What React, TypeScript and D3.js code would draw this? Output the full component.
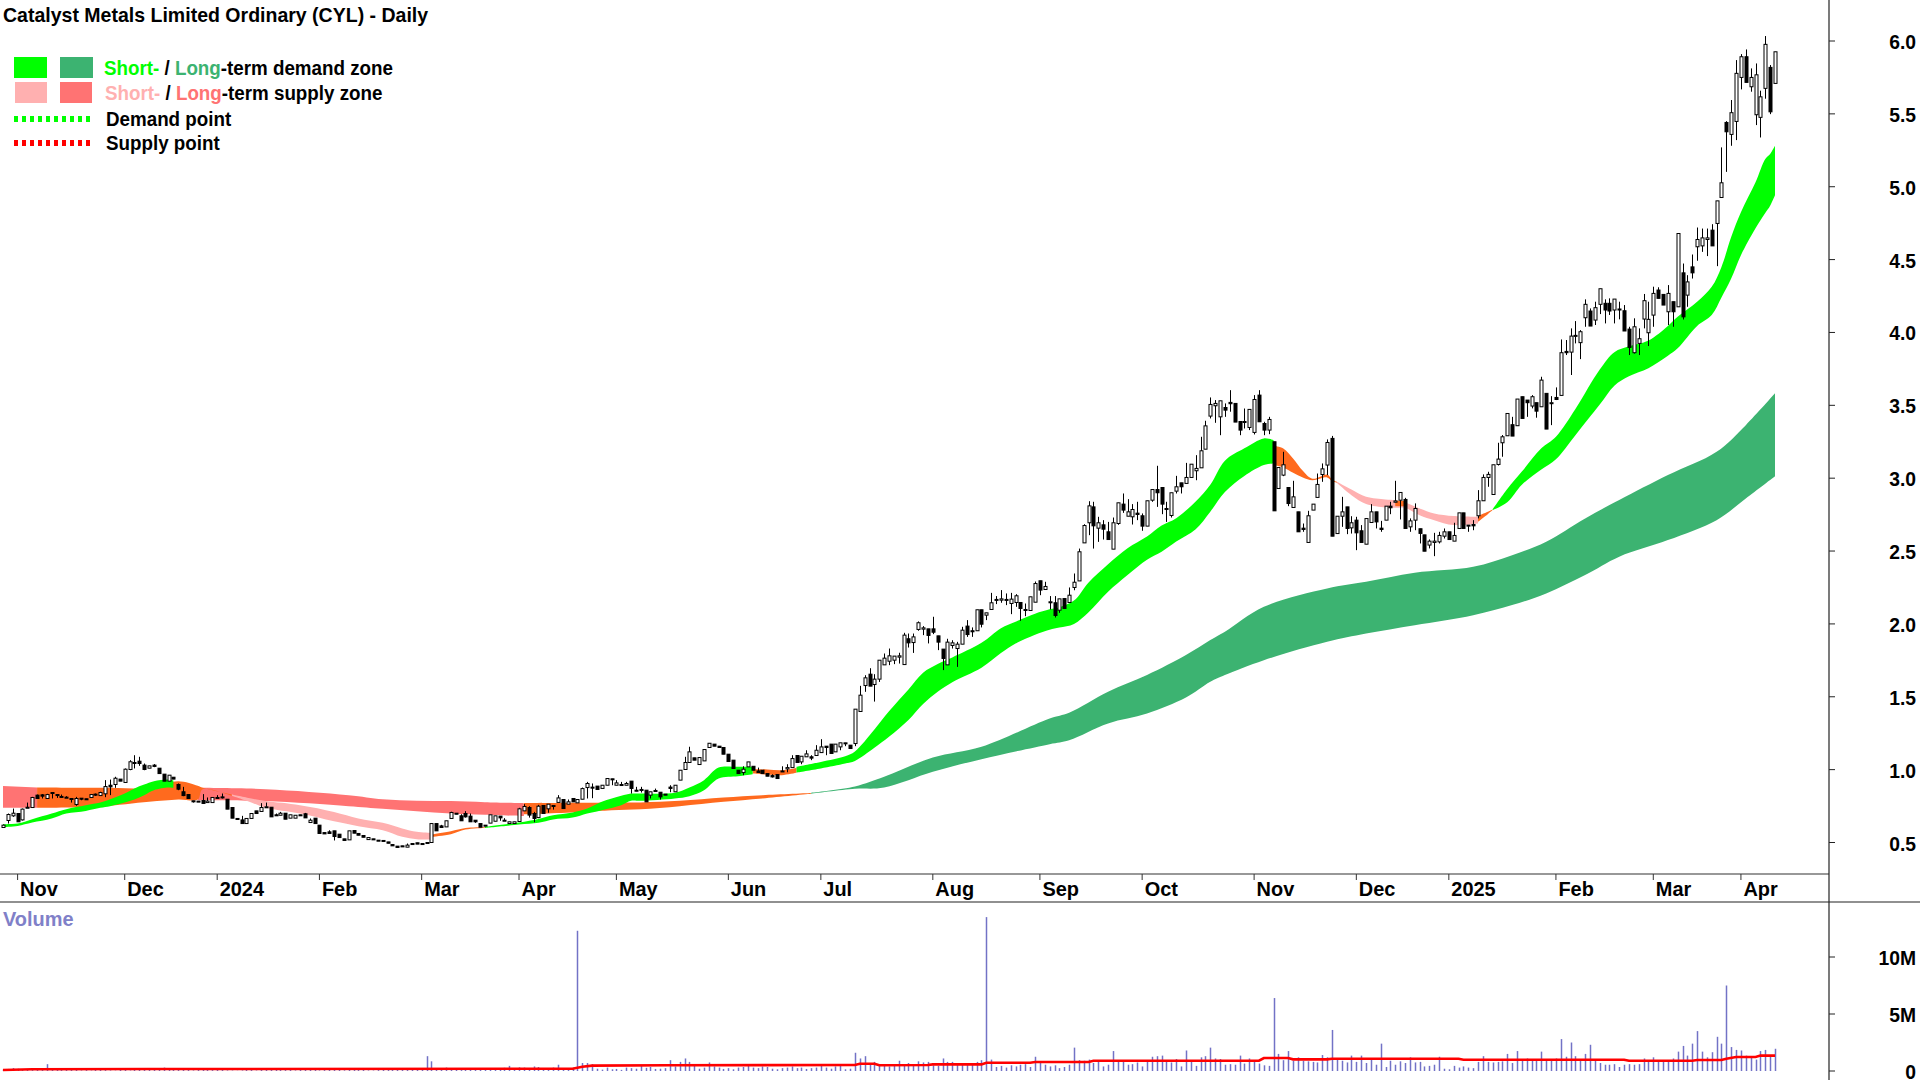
import React from "react";
import * as d3 from "d3";

// Candles as [open, high, low, close].
const candlesLate2023 = [
[.603,.623,.603,.619],[.651,.699,.630,.692],[.683,.733,.676,.701],[.699,.699,.642,.642],[.655,.733,.651,.729],
[.742,.774,.738,.738],[.740,.813,.738,.809],[.825,.829,.802,.802],[.827,.832,.802,.818],[.802,.834,.800,.829],
[.838,.843,.802,.843],[.829,.829,.806,.825],[.816,.829,.809,.811],[.811,.818,.806,.806],[.802,.802,.774,.797],
[.761,.813,.752,.802],[.804,.804,.790,.800],[.800,.800,.795,.795],[.809,.829,.806,.829],[.832,.836,.820,.825],
[.822,.848,.820,.843],[.834,.928,.811,.884],[.893,.932,.825,.882],[.898,.951,.875,.941],[.935,.935,.921,.921],
[.912,1.008,.909,1.003],[1.001,1.065,.996,1.054],[1.049,1.099,1.008,1.044],[1.058,1.088,1.026,1.042],[1.031,1.042,.996,1.001],
[1.010,1.026,1.010,1.026],[1.031,1.038,1.017,1.022],[1.010,1.010,.973,.973],[.969,.969,.921,.921],[.921,.962,.921,.962],
[.948,.948,.935,.935],[.898,.905,.859,.866],[.848,.882,.818,.822],[.829,.829,.802,.802],[.786,.786,.774,.784],
[.784,.784,.782,.782],[.788,.832,.765,.768],[.774,.809,.774,.784],[.774,.809,.774,.809],[.809,.825,.804,.804],
[.813,.836,.802,.806],[.797,.797,.729,.729],[.740,.740,.667,.667],[.665,.665,.658,.658],[.655,.683,.630,.630],
[.630,.665,.630,.665],[.665,.699,.665,.699],[.717,.717,.699,.699],[.713,.770,.713,.740],[.740,.774,.740,.745],
[.742,.742,.676,.676],[.690,.699,.685,.685],[.687,.710,.687,.701],[.701,.701,.660,.660],[.667,.690,.667,.690],
[.667,.687,.667,.687],[.690,.690,.685,.685],[.697,.703,.669,.669],[.637,.665,.637,.653],[.667,.667,.630,.630],
[.619,.619,.562,.562],[.568,.568,.559,.559],[.573,.584,.562,.562],[.580,.580,.514,.541],[.557,.557,.534,.534],
[.525,.525,.514,.514],[.518,.580,.518,.580],[.582,.582,.564,.564],[.562,.562,.550,.550]];

const candlesEarly2024 = [
[.548,.548,.536,.536],[.520,.534,.520,.534],[.525,.525,.520,.520],[.516,.516,.511,.511],[.514,.514,.509,.509],
[.504,.504,.495,.495],[.486,.486,.477,.477],[.475,.475,.466,.466],[.477,.477,.470,.470],[.468,.493,.468,.482],
[.493,.493,.486,.486],[.498,.498,.489,.489],[.493,.493,.486,.486],[.500,.500,.493,.493],[.500,.632,.497,.630],
[.630,.630,.580,.580],[.614,.621,.603,.603],[.607,.649,.607,.649],[.665,.711,.665,.706],[.701,.701,.694,.694],
[.683,.694,.649,.649],[.699,.715,.671,.676],[.681,.699,.642,.642],[.653,.653,.635,.642],[.630,.630,.605,.605],
[.619,.619,.612,.612],[.633,.690,.633,.690],[.646,.683,.646,.683],[.681,.681,.649,.669],[.653,.667,.649,.649],
[.630,.642,.630,.642],[.630,.642,.630,.642],[.644,.738,.642,.731],[.717,.763,.717,.747],[.740,.749,.671,.688],
[.699,.710,.639,.665],[.671,.758,.667,.749],[.754,.754,.699,.699],[.731,.763,.704,.763],[.747,.754,.726,.754],
[.775,.825,.775,.806],[.795,.795,.733,.733],[.763,.795,.763,.779],[.802,.802,.779,.779],[.772,.795,.772,.795],
[.797,.877,.797,.870],[.877,.916,.802,.905],[.880,.905,.804,.873],[.887,.887,.864,.864],[.871,.893,.871,.893],
[.893,.939,.893,.939],[.937,.937,.893,.930],[.893,.928,.893,.909],[.891,.916,.891,.898],[.893,.916,.893,.905],
[.921,.921,.836,.871],[.859,.882,.852,.852],[.857,.882,.843,.864],[.859,.859,.779,.779],[.825,.848,.802,.848],
[.857,.870,.850,.850],[.845,.845,.795,.813],[.832,.832,.825,.825],[.880,.893,.845,.871],[.848,.893,.848,.893],
[.928,.996,.928,.996],[1.001,1.088,1.001,1.049],[1.049,1.157,1.049,1.122],[1.081,1.081,1.065,1.065],[1.035,1.083,1.035,1.083],
[1.060,1.138,1.060,1.138],[1.152,1.181,1.152,1.181]];

const candlesMid2024 = [
[1.175,1.175,1.161,1.161],[1.161,1.161,1.152,1.152],[1.152,1.152,1.106,1.106],[1.106,1.106,1.056,1.056],[1.065,1.065,1.008,1.008],
[.996,.996,.973,.973],[.980,1.023,.962,1.003],[1.019,1.053,1.019,1.053],[1.023,1.023,.996,.996],[.991,1.014,.980,.980],
[.996,.996,.973,.973],[.973,.973,.955,.955],[.959,.968,.946,.950],[.966,.966,.939,.939],[.985,1.023,.985,.991],
[1.005,1.037,.982,1.014],[1.014,1.099,1.014,1.076],[1.097,1.097,1.049,1.049],[1.053,1.092,1.037,1.092],[1.088,1.133,1.088,1.108],
[1.088,1.099,1.065,1.079],[1.097,1.168,1.097,1.133],[1.117,1.209,1.117,1.156],[1.161,1.161,1.099,1.152],[1.175,1.175,1.111,1.111],
[1.122,1.175,1.122,1.175],[1.156,1.184,1.133,1.184],[1.177,1.184,1.161,1.184],[1.168,1.168,1.145,1.145],[1.179,1.415,1.161,1.415],
[1.399,1.575,1.399,1.511],[1.577,1.648,1.534,1.630],[1.655,1.696,1.573,1.573],[1.584,1.655,1.467,1.621],[1.621,1.751,1.602,1.751],
[1.719,1.797,1.719,1.765],[1.744,1.831,1.717,1.781],[1.751,1.779,1.724,1.779],[1.772,1.802,1.728,1.781],[1.721,1.939,1.721,1.923],
[1.898,1.934,1.838,1.870],[1.872,1.934,1.801,1.911],[1.962,2.017,1.953,2.008],[1.964,1.985,1.923,1.973],[1.966,1.966,1.866,1.921],
[1.966,2.049,1.930,1.943],[1.918,1.918,1.820,1.875],[1.827,1.827,1.683,1.763],[1.719,1.898,1.719,1.875],[1.852,1.888,1.831,1.870],
[1.831,1.877,1.705,1.861],[1.861,1.980,1.861,1.957],[1.985,2.026,1.911,1.927],[1.953,1.976,1.911,1.946],[1.953,2.097,1.953,2.097],
[2.097,2.097,1.976,1.998],[2.060,2.076,2.026,2.076],[2.099,2.213,2.099,2.145],[2.161,2.191,2.136,2.168],[2.163,2.232,2.145,2.172],
[2.161,2.209,2.129,2.168],[2.140,2.213,2.067,2.170],[2.147,2.204,2.117,2.193],[2.147,2.147,2.021,2.106],[2.092,2.140,2.053,2.099],
[2.092,2.186,2.092,2.186],[2.149,2.291,2.149,2.277],[2.296,2.296,2.197,2.232],[2.236,2.289,2.236,2.257],[2.145,2.191,2.099,2.152],
[2.145,2.191,2.044,2.058],[2.094,2.172,2.076,2.172]];

const candlesLate2024 = [
[2.174,2.174,2.106,2.106],[2.147,2.250,2.147,2.197],[2.250,2.346,2.231,2.286],[2.295,2.517,2.295,2.495],[2.556,2.684,2.556,2.675],
[2.694,2.842,2.609,2.810],[2.803,2.838,2.517,2.673],[2.657,2.735,2.563,2.694],[2.680,2.712,2.579,2.650],[2.632,2.700,2.579,2.579],
[2.513,2.730,2.513,2.694],[2.689,2.831,2.680,2.831],[2.822,2.895,2.762,2.781],[2.739,2.856,2.739,2.769],[2.735,2.822,2.682,2.785],
[2.760,2.838,2.712,2.751],[2.742,2.758,2.639,2.671],[2.671,2.845,2.671,2.845],[2.849,2.922,2.838,2.922],[2.922,3.085,2.803,2.900],
[2.936,2.936,2.753,2.822],[2.785,2.838,2.700,2.792],[2.744,2.900,2.730,2.900],[2.911,3.016,2.895,2.941],[2.968,2.968,2.895,2.941],
[2.964,3.105,2.964,3.005],[3.005,3.096,3.005,3.096],[3.051,3.158,2.986,3.067],[3.071,3.284,3.071,3.188],[3.199,3.394,3.199,3.359],
[3.426,3.554,3.410,3.506],[3.497,3.536,3.380,3.513],[3.421,3.531,3.295,3.531],[3.485,3.513,3.421,3.467],[3.520,3.604,3.456,3.511],
[3.513,3.513,3.385,3.385],[3.389,3.389,3.295,3.330],[3.382,3.478,3.341,3.389],[3.348,3.472,3.330,3.472],[3.314,3.570,3.300,3.540],
[3.570,3.604,3.387,3.387],[3.375,3.387,3.295,3.330],[3.330,3.421,3.302,3.403],[3.250,3.250,2.776,2.776],[2.929,3.073,2.929,3.073],
[3.021,3.181,3.014,3.092],[2.936,2.936,2.808,2.826],[2.799,2.982,2.799,2.872],[2.769,2.769,2.632,2.632],[2.657,2.689,2.632,2.648],
[2.559,2.776,2.559,2.742],[2.781,2.822,2.781,2.822],[2.868,3.032,2.868,2.957],[3.025,3.101,2.975,3.064],[3.090,3.266,3.021,3.245],
[3.273,3.290,2.602,2.602],[2.620,2.739,2.620,2.739],[2.739,2.872,2.666,2.769],[2.803,2.803,2.616,2.655],[2.659,2.739,2.620,2.694],
[2.712,2.735,2.506,2.625],[2.639,2.678,2.559,2.559],[2.547,2.723,2.547,2.723],[2.696,2.822,2.696,2.769],[2.769,2.769,2.655,2.700],
[2.657,2.707,2.632,2.648],[2.712,2.808,2.712,2.808],[2.808,2.838,2.753,2.797],[2.835,2.982,2.835,2.844],[2.849,2.902,2.717,2.902],
[2.854,2.865,2.655,2.655],[2.666,2.724,2.632,2.707]];

const candles2025 = [
[2.712,2.827,2.643,2.792],[2.653,2.653,2.552,2.621],[2.611,2.611,2.499,2.499],[2.541,2.580,2.518,2.568],[2.559,2.625,2.465,2.568],
[2.563,2.632,2.552,2.607],[2.602,2.655,2.586,2.632],[2.632,2.632,2.579,2.579],[2.568,2.694,2.568,2.607],[2.655,2.762,2.655,2.762],
[2.762,2.762,2.655,2.655],[2.671,2.678,2.632,2.678],[2.682,2.712,2.643,2.673],[2.742,2.918,2.724,2.845],[2.845,3.026,2.845,3.005],
[3.005,3.044,2.941,3.026],[2.888,3.092,2.888,3.092],[3.094,3.243,3.087,3.131],[3.243,3.296,3.147,3.284],[3.291,3.444,3.291,3.444],
[3.367,3.421,3.289,3.289],[3.360,3.543,3.360,3.543],[3.559,3.559,3.410,3.410],[3.536,3.536,3.421,3.518],[3.495,3.570,3.479,3.559],
[3.518,3.518,3.415,3.460],[3.490,3.696,3.490,3.673],[3.582,3.582,3.337,3.337],[3.511,3.563,3.364,3.518],[3.554,3.623,3.536,3.540],
[3.568,3.952,3.568,3.861],[3.870,3.948,3.845,3.861],[3.865,4.028,3.708,3.975],[3.973,4.078,3.925,3.980],[3.930,4.016,3.817,4.005],
[4.101,4.227,4.039,4.193],[4.147,4.165,4.044,4.044],[4.085,4.211,4.051,4.170],[4.193,4.300,4.126,4.300],[4.200,4.227,4.062,4.154],
[4.200,4.234,4.120,4.147],[4.154,4.229,4.062,4.229],[4.161,4.211,4.090,4.154],[4.149,4.188,4.010,4.010],[4.023,4.039,3.845,3.897],
[3.861,4.097,3.855,4.039],[3.925,4.028,3.845,3.957],[4.092,4.264,4.028,4.218],[3.998,4.211,3.907,4.090],[4.119,4.314,4.039,4.268],
[4.291,4.310,4.234,4.234],[4.261,4.261,4.188,4.188],[4.142,4.325,4.051,4.268],[4.211,4.211,4.039,4.142],[4.176,4.679,4.176,4.679],
[4.409,4.473,4.089,4.107],[4.256,4.393,4.176,4.347],[4.450,4.535,4.370,4.409],[4.588,4.720,4.492,4.638],[4.594,4.713,4.553,4.649],
[4.638,4.713,4.524,4.649],[4.702,4.743,4.594,4.594],[4.748,4.903,4.455,4.903],[4.926,5.270,4.926,5.027],[5.441,5.450,5.102,5.377],
[5.359,5.595,5.281,5.508],[5.448,5.869,5.320,5.778],[5.750,5.910,5.668,5.892],[5.892,5.942,5.716,5.716],[5.686,5.812,5.652,5.750],
[5.494,5.846,5.423,5.768],[5.476,5.659,5.338,5.617],[5.675,6.034,5.604,5.977],[5.819,5.835,5.498,5.514],[5.709,5.926,5.709,5.926]];

const candles = [...candlesLate2023, ...candlesEarly2024, ...candlesMid2024, ...candlesLate2024, ...candles2025];

// Volume in millions, bar by bar.
const volume2023 = [.12,.18,.26,.2,.15,.18,.08,.14,.12,.6,.1,.15,.22,.12,.1,.2,.05,.08,.04,.12,.14,.08,.05,.03,.12,.1,.04,.15,.22,.18,.24,.2,.26,.3,.2,.22,.15,.12,.1,.05,.22,.18,.1,.08,.16,.1,.05,.04,.02,.05];
const volumeEarly2024 = [.1,.12,.04,.1,.2,.16,.12,.22,.08,.24,.05,.2,.15,.1,.18,.05,.08,.16,.2,.12,.06,.1,.14,.18,.12,.05,.04,.08,.1,.14,.16,.2,.22,.12,.24,.18,.22,1.3,.85,.15,.2,.3,.24,.1,.08,.16,.2,.22,.12,.1,.16,.15,.2,.28,.45,.25,.32,.3,.25,.4,.35,.2,.15,.3,.55,.2,.18,.3];
const volumeMid2024 = [12.3,.7,.7,.6,.2,.12,.3,.15,.18,.1,.3,.25,.2,.45,.28,.35,.18,.2,.25,.95,.4,.8,1.1,.8,.45,.2,.3,.75,.4,.3,.18,.25,.15,.3,.35,.5,.3,.25,.4,.35,.2,.15,.25,.3,.4,.25,.3,.18,.25,.3,.45,.3,.2,.4,.45,.15,.2,1.6,1.1,1.3,.7,.8,.45,.5,.4,.55,.9,.6,.7,.55,.85,.75,.8,.5,.45,1.1,.8,.8,.6,.55,.65,.7,.8,.95];
const volumeLate2024 = [13.5,1.0,.35,.45,.3,.5,.4,.55,.6,.35,1.25,.7,.55,.4,.5,.25,.35,.55,2.05,.95,.9,1.0,.7,.85,.4,.55,1.75,.8,.8,.55,.6,.75,.4,.85,1.25,1.3,1.35,.8,.75,1.05,.4,1.8,.85,.45,1.2,1.3,2.05,1.1,1.05,.55,.6,.55,1.35,.65,1.1,.95,.65,.5,.45,6.4,1.5,.95,1.75,.9,1.2,.9,.85,.8,.75,1.4,1.2,3.6,1.1,.9,.75,1.35,.8,1.35,.7,1.0,.55,2.4,.35,.9,.55,.85,.7,1.2,.75,.8,.4,.45];
const volume2025 = [.55,1.25,.2,.15,.45,.3,.4,.3,.25,.8,1.3,.8,.75,.8,.85,1.5,.7,1.75,.9,1.1,.9,.95,1.7,1.0,1.0,1.1,2.8,1.25,2.5,1.3,1.05,1.5,2.3,1.0,.7,.55,.55,.6,.35,.55,.6,.55,.6,1.1,.9,1.2,.8,.85,.95,1.1,1.7,2.2,1.35,2.4,3.5,1.7,1.2,1.65,3.0,2.4,7.5,2.1,1.85,1.8,1.35,1.2,1.0,1.75,1.85,1.35,1.95];
const volumes = [...volume2023, ...volumeEarly2024, ...volumeMid2024, ...volumeLate2024, ...volume2025];

// Average volume line: [bar, millions]
const volumeAverage = [[0,.09],[6,.15],[30,.17],[117,.2],[119,.38],[121,.47],[137,.5],[175,.53],[176,.64],[179,.64],[180,.5],[190,.52],[191,.58],[201,.58],[202,.73],[211,.73],[212,.79],[223,.79],[224,.9],[258,.9],[259,1.14],[264,1.14],[265,1.02],[272,1.02],[273,1.08],[299,1.08],[300,.99],[333,.99],[334,.9],[347,.9],[348,.96],[353,.96],[354,1.08],[356,1.23],[360,1.23],[361,1.35],[364,1.35]];

// Zones: [bar, upper, lower]
const longSupplyA = [[0,.887,.738],[7,.877,.738]];
const longSupplyB = [[40,.875,.790],[54,.866,.784],[71,.825,.749],[78,.797,.731],[85,.786,.715],[92,.784,.699],[99,.777,.690],[107,.770,.681]];
const shortSupplyA = [[47,.829,.820],[51,.802,.774],[54,.784,.738],[61,.756,.699],[68,.710,.646],[73,.665,.612],[78,.635,.584],[82,.596,.539],[85,.573,.523],[88,.566,.520]];
const shortSupplyB = [[274,2.975,2.968],[277,2.922,2.883],[280,2.872,2.822],[284,2.854,2.799],[286,2.849,2.797],[288,2.833,2.797],[291,2.792,2.746],[294,2.758,2.712],[298,2.740,2.678],[303,2.735,2.689]];
const mixedA = [[7,.877,.738],[20,.875,.747],[30,.875,.779],[36,.920,.795],[40,.889,.795],[41,.875,.866],[47,.829,.820]];
const mixedB = [[88,.555,.539],[92,.578,.557],[95,.600,.589],[99,.605,.600]];
const mixedC = [[107,.770,.694],[119,.772,.710],[125,.774,.722],[131,.775,.728],[139,.786,.749],[148,.809,.779],[156,.825,.802],[166,.840,.834]];
const mixedD = [[154,1.003,.973],[157,1.001,.966],[160,.996,.962],[163,1.012,.978]];
const mixedE = [[261,3.222,3.090],[263,3.204,3.073],[265,3.135,3.037],[267,3.051,3.005],[269,2.996,2.986],[272,3.025,3.005],[273,2.991,2.980],[274,2.975,2.968]];
const mixedF = [[286,2.845,2.808],[288,2.845,2.808]];
const mixedG = [[303,2.740,2.701],[305,2.769,2.753],[306,2.785,2.781]];
const shortDemandA = [[0,.626,.607],[3,.630,.614],[6,.660,.637],[10,.699,.665],[13,.729,.699],[17,.756,.717],[20,.774,.738],[22,.797,.749],[25,.836,.774],[27,.871,.795],[29,.898,.825],[31,.921,.859],[34,.932,.877],[35,.925,.875]];
const shortDemandB = [[99,.607,.600],[106,.637,.623],[110,.662,.635],[113,.687,.658],[117,.706,.671],[120,.733,.699],[123,.779,.722],[127,.820,.756],[129,.836,.786],[131,.836,.786],[138,.841,.802],[141,.877,.818],[144,.928,.859],[147,1.014,.939],[151,1.019,.955],[154,1.019,.969]];
const shortDemandC = [[163,1.019,.980],[168,1.053,1.008],[173,1.092,1.042],[175,1.125,1.060],[179,1.275,1.150],[182,1.400,1.225],[186,1.550,1.340],[189,1.665,1.450],[192,1.725,1.535],[195,1.770,1.600],[201,1.870,1.700],[205,1.970,1.800],[208,2.015,1.865],[212,2.070,1.925],[215,2.100,1.960],[217,2.115,1.975],[220,2.160,2.000],[223,2.285,2.080],[227,2.410,2.220],[231,2.520,2.335],[235,2.600,2.440],[238,2.675,2.495],[241,2.725,2.565],[245,2.840,2.650],[248,2.955,2.770],[251,3.120,2.905],[255,3.205,3.015],[259,3.273,3.090],[261,3.261,3.101]];
const shortDemandD = [[306,2.785,2.781],[309,2.925,2.835],[312,3.045,2.955],[316,3.205,3.060],[319,3.285,3.130],[323,3.475,3.295],[328,3.745,3.505],[331,3.865,3.635],[334,3.905,3.700],[338,3.945,3.755],[342,4.045,3.840],[344,4.107,3.891],[348,4.210,4.045],[351,4.313,4.120],[353,4.450,4.240],[355,4.655,4.370],[357,4.825,4.530],[360,5.030,4.715],[362,5.190,4.820],[363,5.225,4.870],[364,5.281,4.942]];
const longDemand = [[166,.842,.834],[175,.885,.868],[181,.951,.877],[191,1.083,.985],[201,1.157,1.072],[215,1.351,1.175],[219,1.390,1.202],[227,1.534,1.317],[235,1.649,1.385],[243,1.786,1.495],[248,1.889,1.603],[251,1.946,1.649],[259,2.117,1.751],[272,2.243,1.877],[280,2.289,1.934],[290,2.351,1.991],[302,2.392,2.060],[310,2.472,2.129],[317,2.564,2.209],[325,2.724,2.335],[332,2.850,2.461],[342,3.021,2.575],[352,3.181,2.712],[358,3.364,2.861],[364,3.582,3.014]];

const monthLabels = ["Nov","Dec","2024","Feb","Mar","Apr","May","Jun","Jul","Aug","Sep","Oct","Nov","Dec","2025","Feb","Mar","Apr"];
const monthBars = [3,25,44,65,86,106,126,149,168,191,213,234,257,278,297,319,339,357];
const priceTicks = [0.5,1,1.5,2,2.5,3,3.5,4,4.5,5,5.5,6];
const volumeTicks = [0,5,10];
const volumeTickLabels = ["0","5M","10M"];

const GREEN = "#00FF00", SEA = "#3CB371", PINK = "#FFB0B0", RED = "#FF7373", ORANGE = "#FF6A1E", VOL = "#7272C6";
const FONT = "'Liberation Sans', Arial, sans-serif";

const x = d3.scaleLinear().domain([0, 364]).range([3, 1775]);
const y = d3.scaleLinear().domain([0.5, 6]).range([842.5, 41]);
const yVol = d3.scaleLinear().domain([0, 10]).range([1071, 957]);

const band = d3.area<number[]>().x((d) => x(d[0])).y0((d) => y(d[2])).y1((d) => y(d[1])).curve(d3.curveCatmullRom.alpha(0.5));
const avgLine = d3.line<number[]>().x((d) => x(d[0])).y((d) => yVol(d[1]));

const zones: [number[][], string][] = [
  [longSupplyA, RED], [longSupplyB, RED], [shortSupplyA, PINK], [shortSupplyB, PINK],
  [mixedA, ORANGE], [mixedB, ORANGE], [mixedC, ORANGE], [mixedD, ORANGE], [mixedE, ORANGE], [mixedF, ORANGE], [mixedG, ORANGE],
  [longDemand, SEA], [shortDemandA, GREEN], [shortDemandB, GREEN], [shortDemandC, GREEN], [shortDemandD, GREEN],
];

const AXIS_X = 1829;
const T: React.CSSProperties = { fontFamily: FONT, fontWeight: 700 };

function Label(props: { x: number; y: number; sx: number; anchor?: string; fill?: string; children: React.ReactNode }) {
  return (
    <text transform={`translate(${props.x},${props.y}) scale(${props.sx},1)`} textAnchor={props.anchor ?? "start"} fontSize={21} fill={props.fill ?? "#000"} style={T}>
      {props.children}
    </text>
  );
}

export default function App() {
  return (
    <svg width={1920} height={1080} viewBox="0 0 1920 1080" style={{ position: "absolute", left: 0, top: 0, background: "#fff" }}>
      {zones.map(([d, c], i) => <path key={i} d={band(d) as string} fill={c} />)}

      {candles.map((c, i) => {
        const [o, h, l, cl] = c;
        const cx = Math.round(x(i)) + 0.5;
        const top = y(Math.max(o, cl));
        const bot = y(Math.min(o, cl));
        return (
          <g key={i}>
            <line x1={cx} x2={cx} y1={y(h)} y2={y(l)} stroke="#000" strokeWidth={1} />
            <rect x={cx - 1.5} width={3} y={top} height={Math.max(bot - top, 1)} fill={cl >= o ? "#fff" : "#000"} stroke="#000" strokeWidth={1} />
          </g>
        );
      })}

      {volumes.map((v, i) => (
        <line key={i} x1={Math.round(x(i)) + 0.5} x2={Math.round(x(i)) + 0.5} y1={yVol(0)} y2={yVol(v)} stroke={VOL} strokeWidth={1.5} />
      ))}
      <path d={avgLine(volumeAverage) as string} fill="none" stroke="#FF0000" strokeWidth={2.6} />

      <line x1={0} x2={AXIS_X} y1={874} y2={874} stroke="#333" strokeWidth={1.2} />
      <line x1={0} x2={1920} y1={902} y2={902} stroke="#222" strokeWidth={1.2} />
      <line x1={AXIS_X} x2={AXIS_X} y1={0} y2={1080} stroke="#222" strokeWidth={1.2} />

      {monthLabels.map((m, i) => (
        <g key={i}>
          <line x1={x(monthBars[i])} x2={x(monthBars[i])} y1={874} y2={880} stroke="#333" />
          <Label x={x(monthBars[i]) + 2.5} y={896} sx={0.95}>{m}</Label>
        </g>
      ))}

      {priceTicks.map((p) => (
        <g key={p}>
          <line x1={AXIS_X} x2={AXIS_X + 6} y1={y(p)} y2={y(p)} stroke="#222" />
          <Label x={1916} y={y(p) + 8} sx={0.92} anchor="end">{p.toFixed(1)}</Label>
        </g>
      ))}
      {volumeTicks.map((v, i) => (
        <g key={v}>
          <line x1={AXIS_X} x2={AXIS_X + 6} y1={yVol(v)} y2={yVol(v)} stroke="#222" />
          <Label x={1916} y={yVol(v) + 8} sx={0.92} anchor="end">{volumeTickLabels[i]}</Label>
        </g>
      ))}

      <Label x={3} y={22} sx={0.93}>Catalyst Metals Limited Ordinary (CYL) - Daily</Label>
      <Label x={3} y={926} sx={0.95} fill="#8080C8">Volume</Label>

      <rect x={14} y={57} width={33} height={21} fill={GREEN} />
      <rect x={60} y={57} width={33} height={21} fill={SEA} />
      <rect x={15} y={82} width={32} height={21} fill={PINK} />
      <rect x={60} y={82} width={32} height={21} fill={RED} />
      <line x1={14} x2={93} y1={119} y2={119} stroke={GREEN} strokeWidth={6} strokeDasharray="4 4" />
      <line x1={14} x2={93} y1={143} y2={143} stroke="#FF0000" strokeWidth={6} strokeDasharray="4 4" />
      <Label x={104} y={75} sx={0.895}>
        <tspan fill={GREEN}>Short-</tspan><tspan> / </tspan><tspan fill={SEA}>Long</tspan><tspan>-term demand zone</tspan>
      </Label>
      <Label x={105} y={100} sx={0.895}>
        <tspan fill={PINK}>Short-</tspan><tspan> / </tspan><tspan fill={RED}>Long</tspan><tspan>-term supply zone</tspan>
      </Label>
      <Label x={106} y={126} sx={0.895}>Demand point</Label>
      <Label x={106} y={150} sx={0.895}>Supply point</Label>
    </svg>
  );
}
